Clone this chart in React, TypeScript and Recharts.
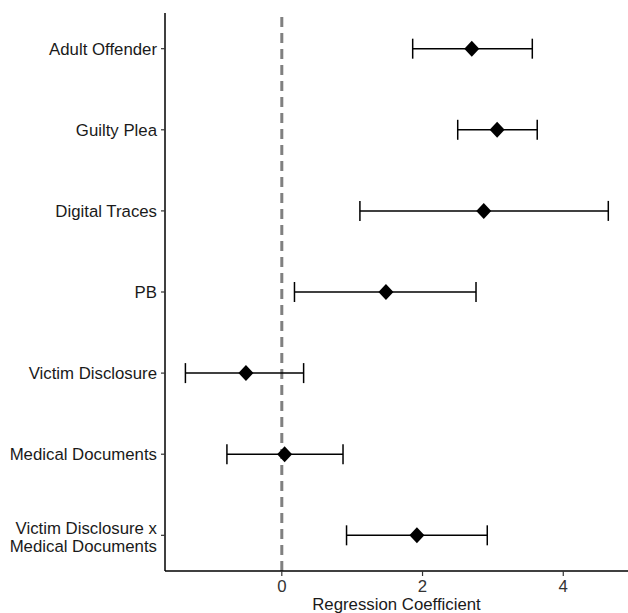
import { ScatterChart, Scatter, XAxis, YAxis, ErrorBar, ReferenceLine } from 'recharts';

const predictors = [
    'Adult Offender',
    'Guilty Plea',
    'Digital Traces',
    'PB',
    'Victim Disclosure',
    'Medical Documents',
    'Victim Disclosure x\nMedical Documents',
];
const coefficients = [2.70, 3.06, 2.87, 1.48, -0.51, 0.04, 1.92];
const lowerCI = [1.86, 2.50, 1.11, 0.18, -1.37, -0.78, 0.92];
const upperCI = [3.56, 3.63, 4.64, 2.76, 0.31, 0.87, 2.92];
const xTicks = [0, 2, 4];
const rowTicks = predictors.map((_, i) => i);

const data = predictors.map((name, i) => ({
    name,
    row: i,
    coef: coefficients[i],
    err: [coefficients[i] - lowerCI[i], upperCI[i] - coefficients[i]],
}));

const FONT = '"Liberation Sans", Arial, sans-serif';
const FONT_SIZE = 16.8;

const Diamond = (props: any) => {
    const { cx, cy } = props;
    return (
        <polygon
            points={`${cx},${cy - 8} ${cx + 7.5},${cy} ${cx},${cy + 8} ${cx - 7.5},${cy}`}
            fill='#000'
        />
    );
};

const YTick = ({ x, y, payload }: any) => {
    const lines = predictors[payload.value].split('\n');
    const start = y + 6 - (lines.length - 1) * 7;
    return (
        <text x={x} y={start} textAnchor='end' fill='#1a1a1a' fontSize={FONT_SIZE} fontFamily={FONT}>
            {lines.map((line, i) => (
                <tspan key={i} x={x} dy={i === 0 ? 0 : 18}>{line}</tspan>
            ))}
        </text>
    );
};

export default function App() {
    return (
        <div style={{ position: 'absolute', left: 0, top: 0 }}>
            <ScatterChart width={628} height={613} margin={{ top: 13, right: 0, bottom: 0, left: 0 }}>
                <XAxis
                    type='number'
                    dataKey='coef'
                    domain={[-1.66, 4.92]}
                    allowDataOverflow
                    ticks={xTicks}
                    height={42}
                    tickSize={5}
                    tickMargin={4}
                    axisLine={{ stroke: '#000', strokeWidth: 1.5 }}
                    tickLine={{ stroke: '#333', strokeWidth: 1.2 }}
                    tick={{ fill: '#333', fontSize: FONT_SIZE, fontFamily: FONT }}
                    label={{ value: 'Regression Coefficient', position: 'insideBottom', offset: 3, fill: '#1a1a1a', fontSize: FONT_SIZE, fontFamily: FONT }}
                />
                <YAxis
                    type='number'
                    dataKey='row'
                    domain={[-0.44, 6.44]}
                    allowDataOverflow
                    reversed
                    ticks={rowTicks}
                    interval={0}
                    width={165}
                    tickSize={4}
                    tickMargin={4}
                    axisLine={{ stroke: '#000', strokeWidth: 1.5 }}
                    tickLine={{ stroke: '#333', strokeWidth: 1.2 }}
                    tick={<YTick />}
                />
                <ReferenceLine x={0} stroke='#808080' strokeWidth={3} strokeDasharray='10 6' />
                <Scatter data={data} shape={<Diamond />} isAnimationActive={false}>
                    <ErrorBar dataKey='err' direction='x' width={10} stroke='#000' strokeWidth={1.5} />
                </Scatter>
            </ScatterChart>
        </div>
    );
}
